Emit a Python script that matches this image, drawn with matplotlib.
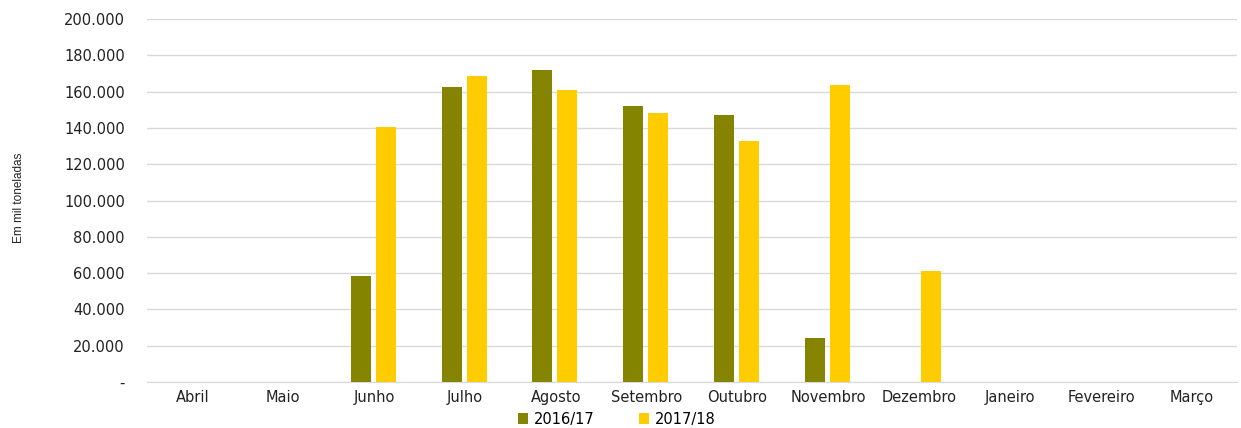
import numpy as np
import matplotlib.pyplot as plt
from matplotlib.ticker import FuncFormatter

meses = ["Abril", "Maio", "Junho", "Julho", "Agosto", "Setembro", "Outubro",
         "Novembro", "Dezembro", "Janeiro", "Fevereiro", "Março"]
safra_2016_17 = [0, 0, 58500, 162500, 172000, 152300, 147400, 24500, 0, 0, 0, 0]
safra_2017_18 = [0, 0, 140500, 168600, 161000, 148200, 132800, 163600, 61200, 0, 0, 0]
series_labels = ["2016/17", "2017/18"]
colors = ["#848400", "#FFCC00"]

plt.rcParams['font.family'] = ['DejaVu Sans']

fig = plt.figure(figsize=(12.41, 4.28), dpi=100)
ax = fig.add_axes([0.1185, 0.1075, 0.8785, 0.848])

x = np.arange(len(meses))
w = 0.22
off = 0.1375
ax.bar(x - off - 0.01, safra_2016_17, width=w, color=colors[0], label=series_labels[0], zorder=3)
ax.bar(x + off - 0.01, safra_2017_18, width=w, color=colors[1], label=series_labels[1], zorder=3)

ax.set_xlim(-0.5, len(meses) - 0.5)
ax.set_ylim(0, 200000)
ax.set_yticks(np.arange(0, 200001, 20000))
ax.yaxis.set_major_formatter(FuncFormatter(
    lambda v, p: "-" if v == 0 else f"{int(v):,}".replace(",", ".")))
ax.set_xticks(x)
ax.set_xticklabels(meses)

ax.grid(axis='y', color='#D9D9D9', linewidth=1, zorder=0)
for s in ['top', 'right', 'left']:
    ax.spines[s].set_visible(False)
ax.spines['bottom'].set_color('#D9D9D9')
ax.tick_params(axis='both', length=0, labelsize=10.5, colors='#222222')
ax.tick_params(axis='y', pad=16)
ax.tick_params(axis='x', pad=6)

fig.text(0.015, 0.537, "Em mil toneladas", rotation=90, va='center', ha='center',
         fontsize=8.5, color='#222222', family='Liberation Sans')

fig.legend(loc='center', bbox_to_anchor=(0.497, 0.021), ncol=2, frameon=False,
           fontsize=10.5, handlelength=0.7, handleheight=0.7, columnspacing=3.0,
           handletextpad=0.4, borderaxespad=0, borderpad=0)

fig.savefig("out.png", dpi=100)
